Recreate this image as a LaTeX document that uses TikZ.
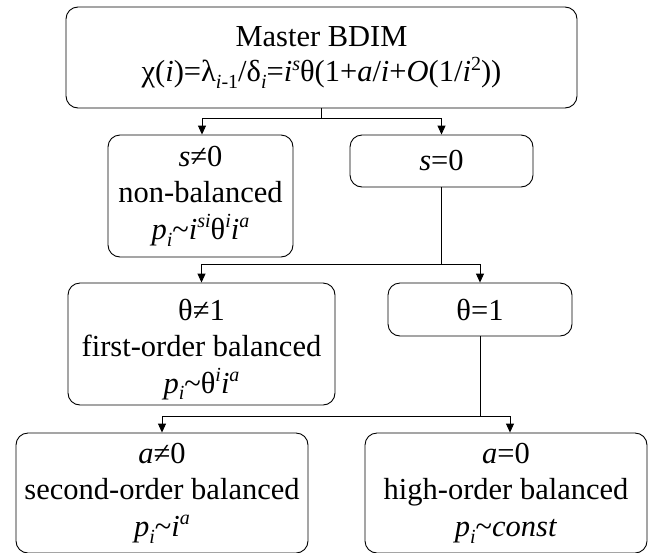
\documentclass[tikz,border=0pt]{standalone}
\usepackage{fontspec}
\setmainfont{Liberation Serif}
\usetikzlibrary{arrows.meta}
\newcommand\mysub[1]{\raisebox{-0.22em}{\fontsize{20}{20}\selectfont #1}}
\newcommand\mysup[1]{\raisebox{0.38em}{\fontsize{20}{20}\selectfont #1}}
\tikzset{
  box/.style={draw=black, line width=0.9pt, rounded corners=12pt, align=center,
    inner sep=0pt, font=\fontsize{30.5}{36.5}\selectfont},
  link/.style={draw=black, line width=0.9pt},
  arr/.style={link, -{Triangle[length=9pt,width=8pt]}},
}
\begin{document}
\begin{tikzpicture}[x=1pt,y=1pt]
\useasboundingbox (0,0) rectangle (655,-552);
\node[box, minimum width=511pt, minimum height=101pt] (top) at (321.5,-57.5)
  {Master BDIM\\[-1pt]χ(\textit{i})=λ\mysub{\textit{i}-1}/δ\mysub{\textit{i}}=\textit{i}\mysup{\textit{s}}θ(1+\textit{a}/\textit{i}+\textit{O}(1/\textit{i}\mysup{2}))};
\node[box, minimum width=185pt, minimum height=122pt] (sne) at (200.5,-196)
  {\textit{s}≠0\\non-balanced\\\textit{p}\mysub{\textit{i}}\char`\~\textit{i}\mysup{\textit{si}}θ\mysup{\textit{i}}\textit{i}\mysup{\textit{a}}};
\node[box, minimum width=183pt, minimum height=52pt] (seq) at (441.5,-161)
  {\textit{s}=0};
\node[box, minimum width=267pt, minimum height=122pt] (tne) at (201.5,-344)
  {\rule{0pt}{32pt}θ≠1\\first-order balanced\\\textit{p}\mysub{\textit{i}}\char`\~θ\mysup{\textit{i}}\textit{i}\mysup{\textit{a}}};
\node[box, minimum width=184pt, minimum height=53pt] (teq) at (480,-309.5)
  {θ=1};
\node[box, minimum width=292pt, minimum height=120pt] (ane) at (162,-493)
  {\textit{a}≠0\\second-order balanced\\\textit{p}\mysub{\textit{i}}\char`\~\textit{i}\mysup{\textit{a}}};
\node[box, minimum width=282pt, minimum height=120pt] (aeq) at (506,-493)
  {\textit{a}=0\\high-order balanced\\\textit{p}\mysub{\textit{i}}\char`\~\textit{const}};
\coordinate (j1) at (321.5,-118);
\coordinate (j2) at (441.5,-264);
\coordinate (j3) at (480,-416);
\draw[link] (top.south) -- (j1);
\draw[arr] (j1) -| ([xshift=1.5pt]sne.north);
\draw[arr] (j1) -| (seq.north);
\draw[link] (seq.south) -- (j2);
\draw[arr] (j2) -| (tne.north);
\draw[arr] (j2) -| (teq.north);
\draw[link] (teq.south) -- (j3);
\draw[arr] (j3) -| (ane.north);
\draw[arr] (j3) -| ([xshift=4pt]aeq.north);
\end{tikzpicture}
\end{document}
